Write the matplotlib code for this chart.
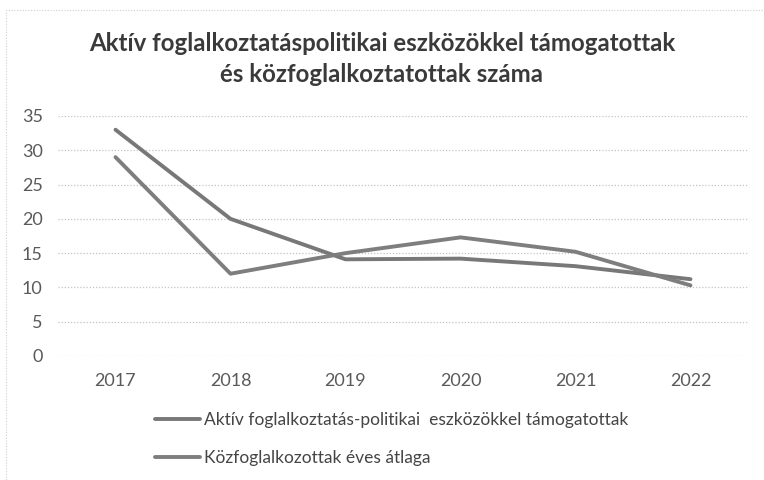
import matplotlib
matplotlib.use("Agg")
import matplotlib.pyplot as plt
from matplotlib.patches import Rectangle

years = ["2017", "2018", "2019", "2020", "2021", "2022"]
aktiv = [33, 20, 14.1, 14.2, 13.1, 11.2]
kozfogl = [29, 12, 15, 17.3, 15.2, 10.3]
series_names = ["Aktív foglalkoztatás-politikai  eszközökkel támogatottak",
                "Közfoglalkozottak éves átlaga"]
title = "Aktív foglalkoztatáspolitikai eszközökkel támogatottak\nés közfoglalkoztatottak száma"
yticks = [0, 5, 10, 15, 20, 25, 30, 35]

plt.rcParams['font.family'] = ['Lato', 'DejaVu Sans']

W, H = 764, 480
fig = plt.figure(figsize=(W/100, H/100), dpi=100)
ax = fig.add_axes([58/W, 1-356/H, (748-58)/W, (356-116)/H])

x = list(range(len(years)))
l1, = ax.plot(x, aktiv, color="#787878", lw=2.8, solid_capstyle='round')
l2, = ax.plot(x, kozfogl, color="#7e7e7e", lw=2.8, solid_capstyle='round')

ax.set_xlim(-0.5, len(years)-0.5)
ax.set_ylim(0, 35)
ax.set_yticks(yticks)
ax.set_yticklabels([str(v) for v in yticks])
ax.set_xticks(x)
ax.set_xticklabels(years)
ax.yaxis.grid(True, linestyle=(0, (1, 1.5)), color="#c4c4c4", lw=0.9)
ax.set_axisbelow(True)
for s in ax.spines.values():
    s.set_visible(False)
ax.tick_params(axis='both', length=0, labelsize=13, colors="#5a5a5a")
ax.tick_params(axis='y', pad=11)
ax.tick_params(axis='x', pad=12)

fig.text(0.5, 1-59/H, title, ha='center', va='center', fontsize=17.3,
         fontweight='bold', color="#3a3a3a", linespacing=1.4)

leg = ax.legend([l1, l2], series_names, loc='upper left',
                bbox_to_anchor=(148/W, 1-405/H), bbox_transform=fig.transFigure,
                frameon=False, handlelength=2.6, handletextpad=0.25,
                labelspacing=1.25, fontsize=12.5, borderaxespad=0)
for t in leg.get_texts():
    t.set_color("#454545")

fig.patches.append(Rectangle((6/W, -0.1), 1.2, 1-10/H+0.1, transform=fig.transFigure,
                             fill=False, ec="#cfcfcf", lw=0.8, linestyle=(0, (1, 1.5))))

fig.savefig("out.png", dpi=100)
